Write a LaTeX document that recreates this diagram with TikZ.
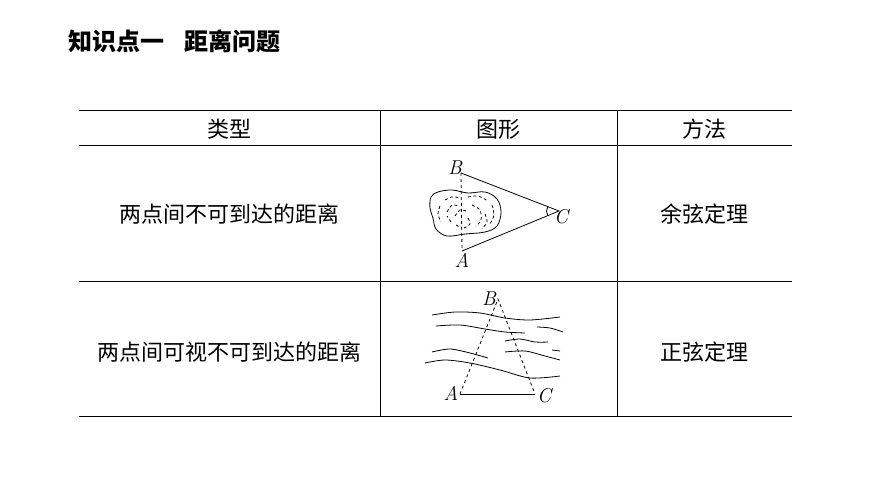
\documentclass[tikz,border=0pt]{standalone}
\usepackage{fontspec}
\newfontfamily\cjk{Noto Sans CJK SC}
\begin{document}
\begin{tikzpicture}[x=1pt,y=-1pt,
  txt/.style={font=\cjk\fontsize{22}{24}\selectfont},
  lbl/.style={font=\rmfamily\itshape\fontsize{20}{20}\selectfont,inner sep=1pt},
  fig/.style={line width=0.8pt},
  dsh/.style={line width=0.8pt,dash pattern=on 3pt off 2.5pt},
  wave/.style={line width=0.8pt}]
\useasboundingbox[fill=white] (0,0) rectangle (870,489);
\node[anchor=west,font=\cjk\bfseries\fontsize{24}{26}\selectfont,inner sep=0pt] (title) at (68,41) {知识点一\hspace{20pt}距离问题};
% table
\draw[line width=1pt] (79,111) -- (792,111);
\draw[line width=0.7pt] (79,145) -- (792,145);
\draw[line width=0.7pt] (79,281) -- (792,281);
\draw[line width=1pt] (79,416) -- (792,416);
\draw[line width=0.7pt] (380,111) -- (380,416);
\draw[line width=0.7pt] (617,111) -- (617,416);
\node[txt] (h1) at (229,129) {类型};
\node[txt] (h2) at (498,129) {图形};
\node[txt] (h3) at (704,129) {方法};
\node[txt] (r1) at (229,214) {两点间不可到达的距离};
\node[txt] (m1) at (704,214) {余弦定理};
\node[txt] (r2) at (229,352) {两点间可视不可到达的距离};
\node[txt] (m2) at (704,352) {正弦定理};
% figure 1
\coordinate (B1) at (461,173);
\coordinate (C1) at (559,211);
\coordinate (A1) at (462,251);
\draw[fig] (B1) -- (C1) -- (A1);
\draw[fig,dashed] (B1) -- (A1);
\draw[fig] (547.8,206.7) .. controls (546,209.5) and (546,213) .. (547.9,215.6);
\draw[fig] plot[smooth cycle,tension=0.6] coordinates {(431,197) (438,192) (452,190) (468,193) (485,192) (497,199) (501,212) (497,226) (485,232) (465,234) (447,236) (436,229) (433,218) (430,208)};
\draw[dsh] plot[smooth] coordinates {(445,200) (452,197) (460,198)};
\draw[dsh] plot[smooth] coordinates {(468,197) (478,196) (488,201)};
\draw[dsh] plot[smooth] coordinates {(492,205) (494,215) (490,224)};
\draw[dsh] plot[smooth] coordinates {(440,206) (438,214) (441,222)};
\draw[dsh] plot[smooth] coordinates {(447,212) (452,205) (458,206)};
\draw[dsh] plot[smooth] coordinates {(451,222) (447,216)};
\draw[dsh] plot[smooth] coordinates {(455,216) (460,210) (466,211)};
\draw[dsh] plot[smooth] coordinates {(472,205) (480,210) (481,220) (476,226)};
\draw[dsh] plot[smooth] coordinates {(468,218) (470,224) (464,228)};
\draw[dsh] plot[smooth] coordinates {(485,214) (487,222) (482,229)};
\draw[dsh] plot[smooth] coordinates {(456,225) (462,228)};
\node[lbl] (lB1) at (455,168) {B};
\node[lbl] (lA1) at (462,260) {A};
\node[lbl] (lC1) at (561,217) {C};
% figure 2
\coordinate (B2) at (498,299);
\coordinate (A2) at (460,394);
\coordinate (C2) at (535,394);
\draw[fig] (A2) -- (C2);
\draw[fig,dashed] (A2) -- (B2) -- (C2);
\node[lbl] (lB2) at (489,299) {B};
\node[lbl] (lA2) at (451,393) {A};
\node[lbl] (lC2) at (544,396) {C};
\draw[wave] plot[smooth] coordinates {(432,315) (455,312) (480,313) (505,318) (530,320) (560,317)};
\draw[wave] plot[smooth] coordinates {(436,326) (460,325) (485,329) (505,332) (525,333)};
\draw[wave] plot[smooth] coordinates {(537,327) (550,328) (563,332)};
\draw[wave] plot[smooth] coordinates {(505,341) (520,339) (535,342) (548,342)};
\draw[wave] plot[smooth] coordinates {(432,352) (450,349) (470,353) (488,358)};
\draw[wave] plot[smooth] coordinates {(505,352) (525,351) (545,356) (560,360)};
\draw[wave] plot[smooth] coordinates {(552,350) (560,351)};
\draw[wave] plot[smooth] coordinates {(425,363) (445,360) (470,363) (500,370) (530,378) (560,376)};
\end{tikzpicture}
\end{document}
